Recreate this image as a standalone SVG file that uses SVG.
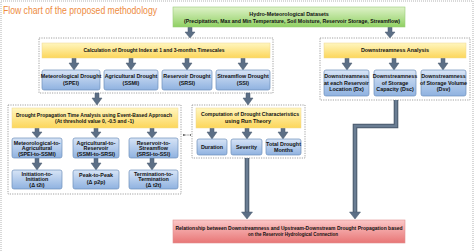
<svg xmlns="http://www.w3.org/2000/svg" width="474" height="251" viewBox="0 0 474 251">
<defs>
<linearGradient id="gG" x1="0" y1="0" x2="0" y2="1"><stop offset="0" stop-color="#dff2c9"/><stop offset="1" stop-color="#8fd062"/></linearGradient>
<linearGradient id="gY" x1="0" y1="0" x2="0" y2="1"><stop offset="0" stop-color="#fff6bf"/><stop offset="1" stop-color="#fcd65a"/></linearGradient>
<linearGradient id="gB" x1="0" y1="0" x2="0" y2="1"><stop offset="0" stop-color="#d7e4f6"/><stop offset="1" stop-color="#8fb2e0"/></linearGradient>
<linearGradient id="gR" x1="0" y1="0" x2="0" y2="1"><stop offset="0" stop-color="#fbc7c7"/><stop offset="1" stop-color="#e87676"/></linearGradient>
<marker id="sm" viewBox="0 0 6 6" refX="5" refY="3" markerWidth="3" markerHeight="3" orient="auto-start-reverse"><path d="M0,0 L6,3 L0,6 z" fill="#222"/></marker>
</defs>
<style>
text{font-family:"Liberation Sans",Arial,sans-serif;font-weight:bold;font-size:5.4px;fill:#111;text-anchor:middle}
.title{font-weight:normal;font-size:10px;fill:#ee8b3e;text-anchor:start}
.cont{fill:#fff;stroke:#8a8a8a;stroke-width:0.8;stroke-dasharray:1.2 1.2}
.g{fill:url(#gG);stroke:#9acb78;stroke-width:0.6}
.y{fill:url(#gY);stroke:#f0d890;stroke-width:0.5}
.b{fill:url(#gB);stroke:#6f8fba;stroke-width:0.7}
.r{fill:url(#gR);stroke:#e09090;stroke-width:0.6}
.ar{fill:#5c6f86;stroke:#4a5a6c;stroke-width:0.5}
.ln{fill:none;stroke:#4a5a6c;stroke-width:4.6}
.lni{fill:none;stroke:#6a7d93;stroke-width:2.6}
</style>
<rect x="1" y="1" width="472" height="254" fill="none" stroke="#a0a0a0" stroke-width="0.8" stroke-dasharray="1 1"/>
<text class="title" x="3" y="14" textLength="154" lengthAdjust="spacingAndGlyphs">Flow chart of the proposed methodology</text>

<g id="containers">
<rect id="c-calc" class="cont" x="39" y="38" width="234" height="55"/>
<rect id="c-down" class="cont" x="320" y="38" width="150" height="62"/>
<rect id="c-prop" class="cont" x="8" y="105" width="173" height="89"/>
<rect id="c-run" class="cont" x="192" y="105" width="113" height="53"/>
</g>

<g id="connectors">
<polygon class="ar" points="188,27 192,27 192,32 195,32 190,38 185,32 188,32"/>
<polygon class="ar" points="388,27 392,27 392,32 395,32 390,38 385,32 388,32"/>
<polygon class="ar" points="72,58 76,58 76,63 79,63 74,70 69,63 72,63"/>
<polygon class="ar" points="129,58 133,58 133,63 136,63 131,70 126,63 129,63"/>
<polygon class="ar" points="185,58 189,58 189,63 192,63 187,70 182,63 185,63"/>
<polygon class="ar" points="241,58 245,58 245,63 248,63 243,70 238,63 241,63"/>
<polygon class="ar" points="345,58 349,58 349,63 352,63 347,70 342,63 345,63"/>
<polygon class="ar" points="392,58 396,58 396,63 399,63 394,70 389,63 392,63"/>
<polygon class="ar" points="441,58 445,58 445,63 448,63 443,70 438,63 441,63"/>
<polygon class="ar" points="95,93 99,93 99,98 102,98 97,105 92,98 95,98"/>
<polygon class="ar" points="246,93 250,93 250,98 253,98 248,105 243,98 246,98"/>
<polygon class="ar" points="35,128 39,128 39,132 42,132 37,138 32,132 35,132"/>
<polygon class="ar" points="94,128 98,128 98,132 101,132 96,138 91,132 94,132"/>
<polygon class="ar" points="150,128 154,128 154,132 157,132 152,138 147,132 150,132"/>
<polygon class="ar" points="35,158 39,158 39,163 42,163 37,170 32,163 35,163"/>
<polygon class="ar" points="94,158 98,158 98,163 101,163 96,170 91,163 94,163"/>
<polygon class="ar" points="150,158 154,158 154,163 157,163 152,170 147,163 150,163"/>
<polygon class="ar" points="210,128 214,128 214,132 217,132 212,139 207,132 210,132"/>
<polygon class="ar" points="245,128 249,128 249,132 252,132 247,139 242,132 245,132"/>
<polygon class="ar" points="281,128 285,128 285,132 288,132 283,139 278,132 281,132"/>
<line x1="183" y1="135" x2="191" y2="135" stroke="#222" stroke-width="0.6" stroke-dasharray="1 0.8" marker-start="url(#sm)" marker-end="url(#sm)"/>
<path class="ln" d="M247,158 V213"/>
<path class="lni" d="M247,158 V213"/>
<polygon class="ar" points="241.5,212 252.5,212 247,219"/>
<path class="ln" d="M396,100 V126 H355 V213"/>
<path class="lni" d="M396,100 V126 H355 V213"/>
<polygon class="ar" points="349.5,212 360.5,212 355,219"/>
</g>

<g id="n-data">
<rect class="g" x="173" y="7" width="232" height="20"/>
<text x="289" y="16.4">Hydro-Meteorological Datasets</text>
<text x="292" y="22.6" textLength="216" lengthAdjust="spacingAndGlyphs">(Precipitation, Max and Min Temperature, Soil Moisture, Reservoir Storage, Streamflow)</text>
</g>

<g id="n-calc">
<rect class="y" x="42" y="43" width="228" height="15"/>
<text x="154" y="52.4" textLength="141" lengthAdjust="spacingAndGlyphs">Calculation of Drought Index at 1 and 3-months Timescales</text>
</g>
<g id="n-spei"><rect class="b" x="42" y="70" width="58" height="20" rx="2"/><text x="71" y="77.9">Meteorological Drought</text><text x="71" y="84.6">(SPEI)</text></g>
<g id="n-ssmi"><rect class="b" x="104" y="70" width="54" height="20" rx="2"/><text x="131" y="77.9">Agricultural Drought</text><text x="131" y="84.6">(SSMI)</text></g>
<g id="n-srsi"><rect class="b" x="162" y="70" width="50" height="20" rx="2"/><text x="187" y="77.9">Reservoir Drought</text><text x="187" y="84.6">(SRSI)</text></g>
<g id="n-ssi"><rect class="b" x="216" y="70" width="54" height="20" rx="2"/><text x="243" y="77.9">Streamflow Drought</text><text x="243" y="84.6">(SSI)</text></g>

<g id="n-down">
<rect class="y" x="324" y="43" width="142" height="15"/>
<text x="395" y="52.4">Downstreamness Analysis</text>
</g>
<g id="n-dx"><rect class="b" x="324" y="70" width="45" height="26" rx="2"/><text x="346.5" y="77.9">Downstreamness</text><text x="346.5" y="84.6">at each Reservoir</text><text x="346.5" y="91.1">Location (Dx)</text></g>
<g id="n-dsc"><rect class="b" x="374" y="70" width="42" height="26" rx="2"/><text x="395" y="77.9">Downstreamness</text><text x="395" y="84.6">of Storage</text><text x="395" y="91.1">Capacity (Dsc)</text></g>
<g id="n-dsv"><rect class="b" x="421" y="70" width="45" height="26" rx="2"/><text x="443.5" y="77.9">Downstreamness</text><text x="443.5" y="84.6">of Storage Volume</text><text x="443.5" y="91.1">(Dsv)</text></g>

<g id="n-prop">
<rect class="y" x="12" y="108" width="166" height="20"/>
<text x="94" y="116.8" textLength="156" lengthAdjust="spacingAndGlyphs">Drought Propagation Time Analysis using Event-Based Approach</text>
<text x="94.5" y="122.8" textLength="79" lengthAdjust="spacingAndGlyphs">(At threshold value 0, -0.5 and -1)</text>
</g>
<g id="n-m2a"><rect class="b" x="12" y="138" width="50" height="20" rx="2"/><text x="37" y="144.6">Meteorological-to-</text><text x="37" y="150.4">Agricultural</text><text x="37" y="156.1">(SPEI-to-SSMI)</text></g>
<g id="n-a2r"><rect class="b" x="73" y="138" width="46" height="20" rx="2"/><text x="96" y="144.6">Agricultural-to-</text><text x="96" y="150.4">Reservoir</text><text x="96" y="156.1">(SSMI-to-SRSI)</text></g>
<g id="n-r2s"><rect class="b" x="129" y="138" width="49" height="20" rx="2"/><text x="153.5" y="144.6">Reservoir-to-</text><text x="153.5" y="150.4">Streamflow</text><text x="153.5" y="156.1">(SRSI-to-SSI)</text></g>
<g id="n-i2i"><rect class="b" x="12" y="170" width="50" height="19" rx="2"/><text x="37" y="175.5">Initiation-to-</text><text x="37" y="181.2">Initiation</text><text x="37" y="187">(Δ t2i)</text></g>
<g id="n-p2p"><rect class="b" x="73" y="170" width="46" height="19" rx="2"/><text x="96" y="177.4">Peak-to-Peak</text><text x="96" y="184.3">(Δ p2p)</text></g>
<g id="n-t2t"><rect class="b" x="129" y="170" width="49" height="19" rx="2"/><text x="153.5" y="175.5">Termination-to-</text><text x="153.5" y="181.2">Termination</text><text x="153.5" y="187">(Δ t2t)</text></g>

<g id="n-run">
<rect class="y" x="196" y="108" width="105" height="20"/>
<text x="250" y="116.2" textLength="98" lengthAdjust="spacingAndGlyphs">Computation of Drought Characteristics</text>
<text x="248" y="122.6">using Run Theory</text>
</g>
<g id="n-dur"><rect class="b" x="197" y="139" width="30" height="16" rx="2"/><text x="212" y="148.8">Duration</text></g>
<g id="n-sev"><rect class="b" x="231" y="139" width="31" height="16" rx="2"/><text x="246.5" y="148.8">Severity</text></g>
<g id="n-tdm"><rect class="b" x="266" y="139" width="35" height="16" rx="2"/><text x="283.5" y="145.6">Total Drought</text><text x="283.5" y="152.1">Months</text></g>

<g id="n-rel">
<rect class="r" x="173" y="220" width="232" height="23"/>
<text x="289" y="230.2" textLength="227" lengthAdjust="spacingAndGlyphs">Relationship between Downstreamness and Upstream-Downstream Drought Propagation based</text>
<text x="293" y="236.3" textLength="90" lengthAdjust="spacingAndGlyphs">on the Reservoir Hydrological Connection</text>
</g>
</svg>
